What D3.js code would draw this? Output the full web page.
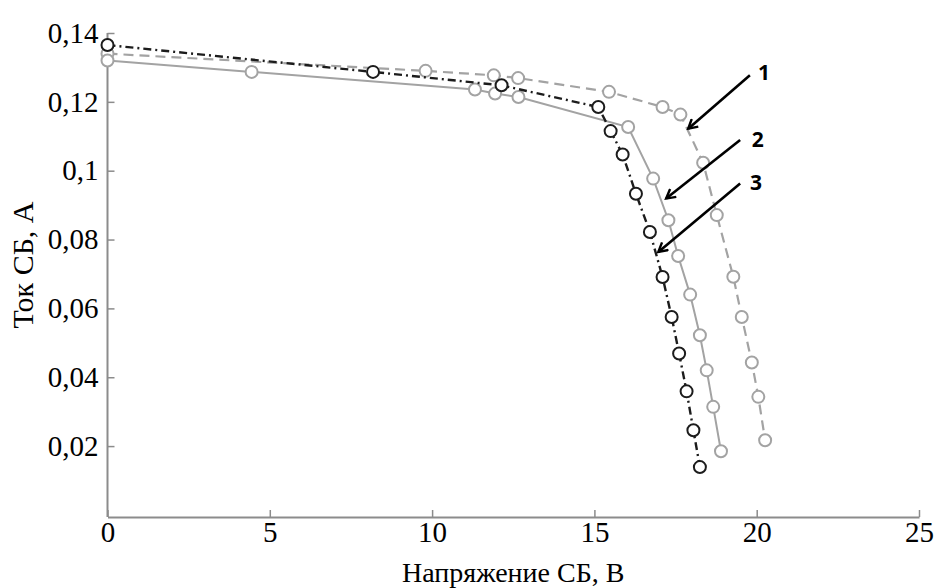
<!DOCTYPE html>
<html><head><meta charset="utf-8">
<script src="https://cdn.jsdelivr.net/npm/d3@7"></script>
<style>body{margin:0;background:#fff}svg{display:block}</style>
</head><body>
<svg id="chart" width="938" height="588"></svg>
<script>
// ---- data ----
const xTicks = [0, 5, 10, 15, 20, 25];
const yTicks = [0.02, 0.04, 0.06, 0.08, 0.1, 0.12, 0.14];
const yTickLabels = ["0,02", "0,04", "0,06", "0,08", "0,1", "0,12", "0,14"];

const s1x = [0, 9.8, 11.9, 12.65, 15.45, 17.1, 17.65, 18.35, 18.77, 19.28, 19.54, 19.85, 20.05, 20.26];
const s1y = [0.134, 0.129, 0.1277, 0.1269, 0.1229, 0.1185, 0.1163, 0.1023, 0.0871, 0.0692, 0.0575, 0.0443, 0.0343, 0.0217];

const s2x = [0, 4.44, 11.32, 11.94, 12.66, 16.04, 16.81, 17.28, 17.58, 17.95, 18.25, 18.46, 18.66, 18.9];
const s2y = [0.132, 0.1287, 0.1236, 0.1224, 0.1214, 0.1127, 0.0977, 0.0856, 0.0752, 0.064, 0.0522, 0.042, 0.0314, 0.0185];

const s3x = [0, 8.18, 12.14, 15.12, 15.5, 15.87, 16.28, 16.71, 17.1, 17.38, 17.61, 17.84, 18.05, 18.25];
const s3y = [0.1365, 0.1287, 0.1248, 0.1185, 0.1115, 0.1047, 0.0933, 0.0822, 0.0691, 0.0575, 0.0469, 0.0359, 0.0246, 0.0139];

const labels = ["1", "2", "3"];
const arrowFromX = [19.79, 19.49, 19.49];
const arrowFromY = [0.1277, 0.1089, 0.0963];
const arrowToX = [17.89, 17.21, 16.97];
const arrowToY = [0.1122, 0.0919, 0.0764];
const labelX = [20.04, 19.85, 19.79];
const labelY = [0.1287, 0.1093, 0.0967];

const xTitle = "Напряжение СБ, В";
const yTitle = "Ток СБ, А";

// ---- drawing ----
const svg = d3.select("#chart");
const x = d3.scaleLinear().domain([0, 25]).range([107.5, 919]);
const y = d3.scaleLinear().domain([-0.0006, 0.14]).range([517, 33]);

const axisColor = "#8c8c8c";
const serif = "'Liberation Serif','Times New Roman',serif";

const gx = svg.append("g").attr("transform", `translate(0,${y.range()[0]})`)
  .call(d3.axisBottom(x).tickValues(xTicks).tickSizeInner(-7).tickSizeOuter(0).tickPadding(4));
const gy = svg.append("g").attr("transform", `translate(${x.range()[0]},0)`)
  .call(d3.axisLeft(y).tickValues(yTicks).tickFormat((d, i) => yTickLabels[i]).tickSizeInner(-7).tickSizeOuter(0).tickPadding(9));
gy.select(".domain").attr("d", `M0,${y(0.14)}V${y.range()[0]}`);
[gx, gy].forEach(g => {
  g.select(".domain").attr("stroke", axisColor).attr("stroke-width", 2);
  g.selectAll(".tick line").attr("stroke", axisColor).attr("stroke-width", 1.5);
  g.selectAll(".tick text").attr("fill", "#000").style("font-family", serif).style("font-size", "29px");
});

svg.append("text").attr("x", (x.range()[0] + x.range()[1]) / 2).attr("y", 582)
  .attr("text-anchor", "middle").style("font-family", serif).style("font-size", "28px").text(xTitle);
svg.append("text").attr("transform", "translate(33,265) rotate(-90)")
  .attr("text-anchor", "middle").style("font-family", serif).style("font-size", "30px").text(yTitle);

const series = [
  { xs: s1x, ys: s1y, color: "#a3a3a3", dash: "10,6", width: 2.2 },
  { xs: s2x, ys: s2y, color: "#a3a3a3", dash: null, width: 2 },
  { xs: s3x, ys: s3y, color: "#1c1c1c", dash: "8,4,2,4", width: 2.4 }
];
const line = d3.line().x(d => x(d[0])).y(d => y(d[1]));
series.forEach(s => {
  const pts = s.xs.map((v, i) => [v, s.ys[i]]);
  svg.append("path").datum(pts).attr("d", line).attr("fill", "none")
    .attr("stroke", s.color).attr("stroke-width", s.width)
    .attr("stroke-dasharray", s.dash);
  svg.append("g").selectAll("circle").data(pts).join("circle")
    .attr("cx", d => x(d[0])).attr("cy", d => y(d[1])).attr("r", 6)
    .attr("fill", "#fff").attr("stroke", s.color).attr("stroke-width", 2);
});

// arrows
const defs = svg.append("defs");
defs.append("marker").attr("id", "arr").attr("viewBox", "0 0 12 12").attr("refX", 10).attr("refY", 6)
  .attr("markerWidth", 12).attr("markerHeight", 12).attr("markerUnits", "userSpaceOnUse").attr("orient", "auto")
  .append("path").attr("d", "M1,1 L10,6 L1,11").attr("fill", "none").attr("stroke", "#000").attr("stroke-width", 2.4);

labels.forEach((t, i) => {
  svg.append("line")
    .attr("x1", x(arrowFromX[i])).attr("y1", y(arrowFromY[i]))
    .attr("x2", x(arrowToX[i])).attr("y2", y(arrowToY[i]))
    .attr("stroke", "#000").attr("stroke-width", 2.6).attr("marker-end", "url(#arr)");
  svg.append("text").attr("x", x(labelX[i])).attr("y", y(labelY[i]) + 8)
    .style("font-family", "'Open Sans','Liberation Sans',sans-serif").style("font-weight", "bold")
    .style("font-size", "21px").text(t);
});
</script>
</body></html>
